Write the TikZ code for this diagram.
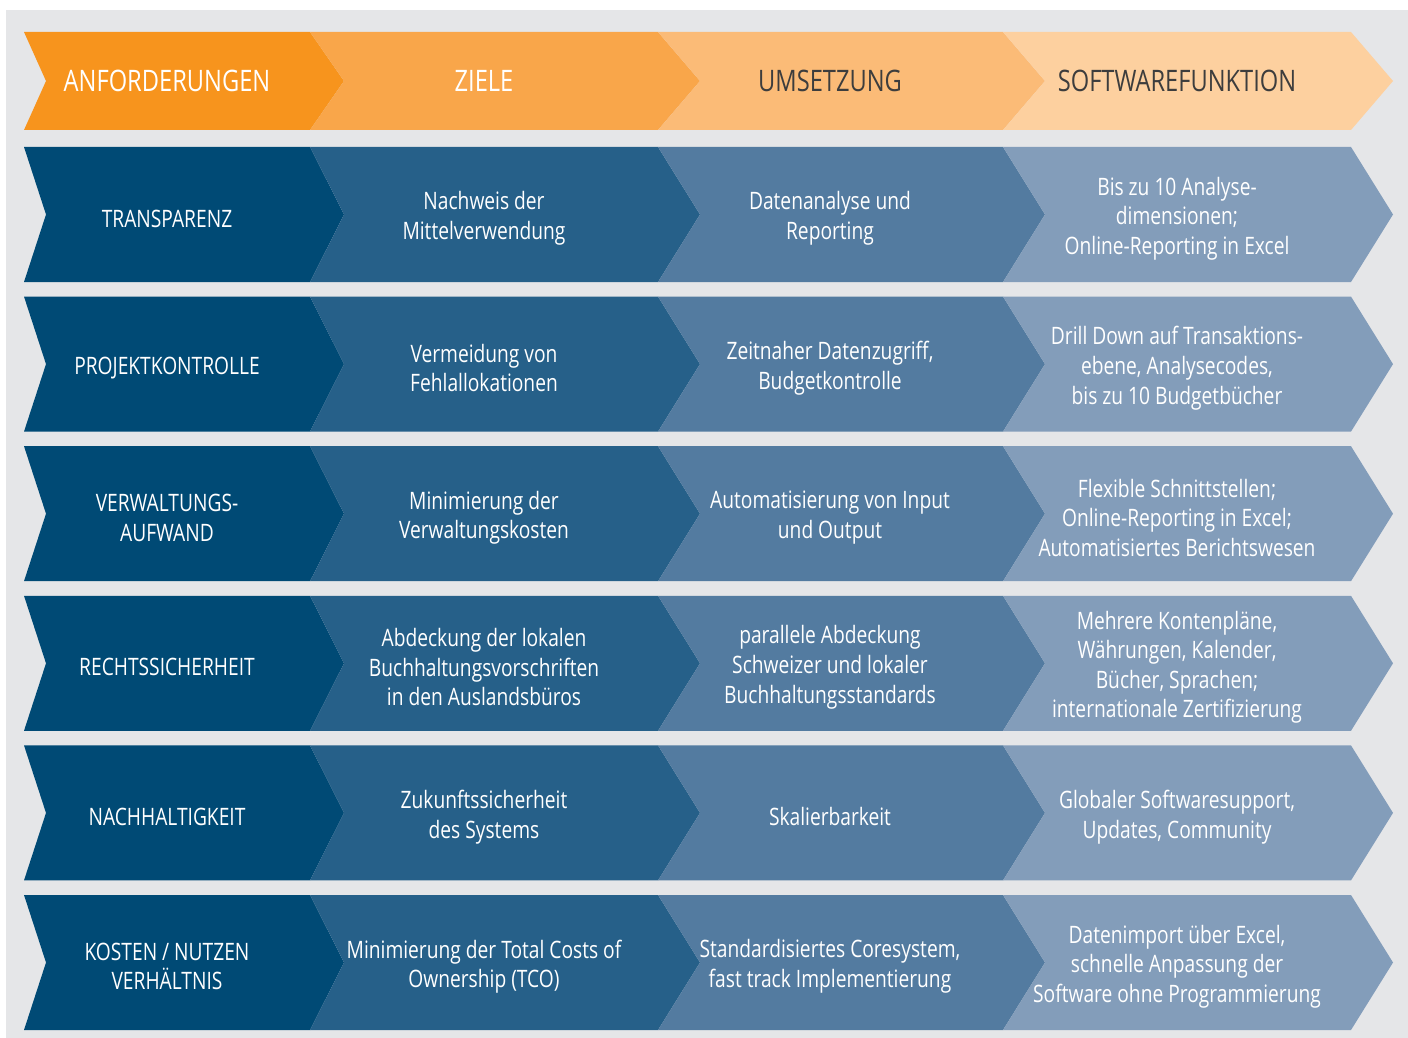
\documentclass[tikz,border=0pt]{standalone}
\usepackage{fontspec}
\setmainfont{Open Sans}[FakeStretch=0.8]

\definecolor{panelgray}{HTML}{E5E6E8}
\definecolor{headc1}{HTML}{F7941D}
\definecolor{headc2}{HTML}{F9A64A}
\definecolor{headc3}{HTML}{FBBB77}
\definecolor{headc4}{HTML}{FDD09F}
\definecolor{rowc1}{HTML}{004A75}
\definecolor{rowc2}{HTML}{266089}
\definecolor{rowc3}{HTML}{537BA0}
\definecolor{rowc4}{HTML}{839DBA}
\definecolor{headtext}{HTML}{3D3D3D}

\tikzset{
  headlabel/.style={align=center, font=\fontsize{14.8}{17}\selectfont},
  celllabel/.style={align=center, text=white, yshift=-2pt, font=\fontsize{12}{14.8}\selectfont},
}

\begin{document}
\begin{tikzpicture}[x=0.5pt, y=-0.5pt]
\useasboundingbox (0,0) rectangle (1408,1038);
\fill[white] (0,0) rectangle (1408,1038);
\fill[panelgray] (6,10) rectangle (1408,1038);

% chevrons: column / back edge / front edge / notch / tip
\foreach \c/\a/\b/\n/\d in {1/24/310/22/34, 2/310/658/34/42, 3/658/1003/42/42, 4/1003/1351/42/42}{
  \fill[headc\c] (\a,32) -- (\b,32) -- (\b+\d,81) -- (\b,130) -- (\a,130) -- (\a+\n,81) -- cycle;
  \foreach \r in {0,...,5}{
    \pgfmathsetmacro\t{147+149.6*\r}
    \fill[rowc\c] (\a,\t) -- (\b,\t) -- (\b+\d,\t+67.5) -- (\b,\t+135) -- (\a,\t+135) -- (\a+\n,\t+67.5) -- cycle;
  }
}

% header
\node[headlabel, text=white] (head1) at (167,81) {ANFORDERUNGEN};
\node[headlabel, text=white] (head2) at (484,81) {ZIELE};
\node[headlabel, text=headtext] (head3) at (830,81) {UMSETZUNG};
\node[headlabel, text=headtext] (head4) at (1177,81) {SOFTWAREFUNKTION};

% rows
\node[celllabel] (transp) at (167,214.5) {TRANSPARENZ};
\node[celllabel] (transpZ) at (484,214.5) {Nachweis der\\Mittelverwendung};
\node[celllabel] (transpU) at (830,214.5) {Datenanalyse und\\Reporting};
\node[celllabel] (transpS) at (1177,214.5) {Bis zu 10 Analyse-\\dimensionen;\\Online-Reporting in Excel};

\node[celllabel] (proj) at (167,364.1) {PROJEKTKONTROLLE};
\node[celllabel] (projZ) at (484,364.1) {Vermeidung von\\Fehlallokationen};
\node[celllabel] (projU) at (830,364.1) {Zeitnaher Datenzugriff,\\Budgetkontrolle};
\node[celllabel] (projS) at (1177,364.1) {Drill Down auf Transaktions-\\ebene, Analysecodes,\\bis zu 10 Budgetbücher};

\node[celllabel] (verw) at (167,513.7) {VERWALTUNGS-\\AUFWAND};
\node[celllabel] (verwZ) at (484,513.7) {Minimierung der\\Verwaltungskosten};
\node[celllabel] (verwU) at (830,513.7) {Automatisierung von Input\\und Output};
\node[celllabel] (verwS) at (1177,513.7) {Flexible Schnittstellen;\\Online-Reporting in Excel;\\Automatisiertes Berichtswesen};

\node[celllabel] (recht) at (167,663.3) {RECHTSSICHERHEIT};
\node[celllabel] (rechtZ) at (484,663.3) {Abdeckung der lokalen\\Buchhaltungsvorschriften\\in den Auslandsbüros};
\node[celllabel] (rechtU) at (830,663.3) {parallele Abdeckung\\Schweizer und lokaler\\Buchhaltungsstandards};
\node[celllabel] (rechtS) at (1177,663.3) {Mehrere Kontenpläne,\\Währungen, Kalender,\\Bücher, Sprachen;\\internationale Zertifizierung};

\node[celllabel] (nach) at (167,812.9) {NACHHALTIGKEIT};
\node[celllabel] (nachZ) at (484,812.9) {Zukunftssicherheit\\des Systems};
\node[celllabel] (nachU) at (830,812.9) {Skalierbarkeit};
\node[celllabel] (nachS) at (1177,812.9) {Globaler Softwaresupport,\\Updates, Community};

\node[celllabel] (kost) at (167,962.5) {KOSTEN / NUTZEN\\VERHÄLTNIS};
\node[celllabel] (kostZ) at (484,962.5) {Minimierung der Total Costs of\\Ownership (TCO)};
\node[celllabel] (kostU) at (830,962.5) {Standardisiertes Coresystem,\\fast track Implementierung};
\node[celllabel] (kostS) at (1177,962.5) {Datenimport über Excel,\\schnelle Anpassung der\\Software ohne Programmierung};
\end{tikzpicture}
\end{document}
